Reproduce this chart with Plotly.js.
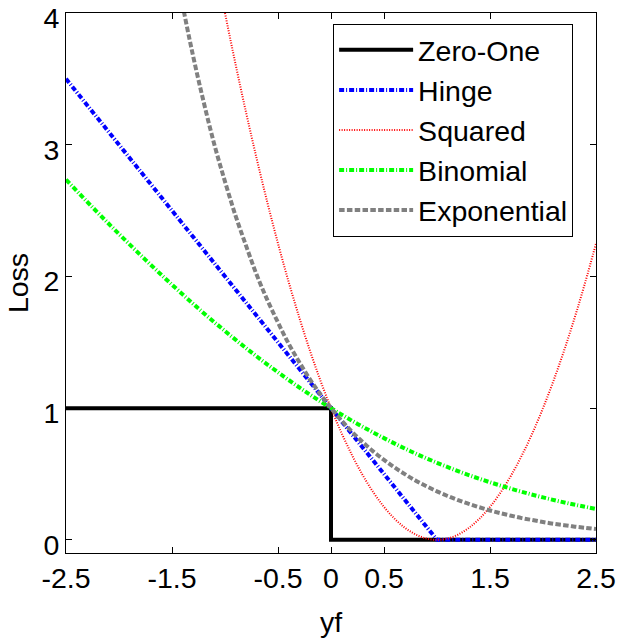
<!DOCTYPE html>
<html>
<head>
<meta charset="utf-8">
<script src="https://cdn.plot.ly/plotly-3.0.1.min.js"></script>
<style>html,body{margin:0;padding:0;background:#fff;}#chart{width:618px;height:644px;}</style>
</head>
<body>
<div id="chart"></div>
<script>
// Zero-One loss
const zeroOneX = [-2.5, 0, 0, 2.5];
const zeroOneY = [1, 1, 0, 0];
// Hinge loss
const hingeX = [-2.5, 1, 2.5];
const hingeY = [3.5, 0, 0];
// Squared loss
const squaredX = [-1.1,-1.0,-0.9,-0.8,-0.7,-0.6,-0.5,-0.4,-0.3,-0.2,-0.1,0,0.1,0.2,0.3,0.4,0.5,0.6,0.7,0.8,0.9,1.0,1.1,1.2,1.3,1.4,1.5,1.6,1.7,1.8,1.9,2.0,2.1,2.2,2.3,2.4,2.5];
const squaredY = [4.41,4.00,3.61,3.24,2.89,2.56,2.25,1.96,1.69,1.44,1.21,1.00,0.81,0.64,0.49,0.36,0.25,0.16,0.09,0.04,0.01,0,0.01,0.04,0.09,0.16,0.25,0.36,0.49,0.64,0.81,1.00,1.21,1.44,1.69,1.96,2.25];
// Binomial loss
const binomialX = [-2.5,-2.25,-2.0,-1.75,-1.5,-1.25,-1.0,-0.75,-0.5,-0.25,0,0.25,0.5,0.75,1.0,1.25,1.5,1.75,2.0,2.25,2.5];
const binomialY = [2.735,2.525,2.322,2.126,1.937,1.756,1.585,1.423,1.272,1.130,1.000,0.880,0.772,0.673,0.585,0.506,0.437,0.376,0.322,0.275,0.235];
// Exponential loss
const expX = [-1.5,-1.4,-1.3,-1.2,-1.1,-1.0,-0.9,-0.8,-0.7,-0.6,-0.5,-0.4,-0.3,-0.2,-0.1,0,0.1,0.2,0.3,0.4,0.5,0.6,0.7,0.8,0.9,1.0,1.1,1.2,1.3,1.4,1.5,1.6,1.7,1.8,1.9,2.0,2.1,2.2,2.3,2.4,2.5];
const expY = [4.48,4.06,3.67,3.32,3.00,2.72,2.46,2.23,2.01,1.82,1.65,1.49,1.35,1.22,1.105,1.00,0.905,0.819,0.741,0.670,0.607,0.549,0.497,0.449,0.407,0.368,0.333,0.301,0.273,0.247,0.223,0.202,0.183,0.165,0.150,0.135,0.122,0.111,0.100,0.091,0.082];

const xTicks = [-2.5,-1.5,-0.5,0,0.5,1.5,2.5];
const xTickText = ['-2.5','-1.5','-0.5','0','0.5','1.5','2.5'];
const yTicks = [0,1,2,3,4];
const yTickText = ['0','1','2','3','4'];

const FONT = 'Liberation Sans, Arial, sans-serif';
const FS = 28.5;

const traces = [
  {x: zeroOneX, y: zeroOneY, name: 'Zero-One', mode: 'lines', line: {color: '#000000', width: 4}},
  {x: hingeX, y: hingeY, name: 'Hinge', mode: 'lines', line: {color: '#0000ff', width: 4, dash: '5px,2px,1px,2px'}},
  {x: squaredX, y: squaredY, name: 'Squared', mode: 'lines', line: {color: '#ff0000', width: 2, dash: '1px,1.5px', shape: 'spline'}},
  {x: binomialX, y: binomialY, name: 'Binomial', mode: 'lines', line: {color: '#00ff00', width: 4, dash: '5px,2px,1px,2px', shape: 'spline'}},
  {x: expX, y: expY, name: 'Exponential', mode: 'lines', line: {color: '#808080', width: 4, dash: '5.5px,2.3px', shape: 'spline'}}
];

const layout = {
  width: 618, height: 644,
  margin: {l: 66, r: 22, t: 13, b: 91},
  paper_bgcolor: '#ffffff', plot_bgcolor: '#ffffff',
  font: {family: FONT, size: FS, color: '#000'},
  showlegend: true,
  legend: {
    x: 0.504, y: 0.98, xanchor: 'left', yanchor: 'top',
    bordercolor: '#000', borderwidth: 1, bgcolor: '#ffffff',
    font: {family: FONT, size: FS, color: '#000'},
    itemwidth: 74
  },
  xaxis: {
    range: [-2.5, 2.5], tickmode: 'array', tickvals: xTicks, ticktext: xTickText,
    ticks: 'inside', ticklen: 6, tickcolor: '#000', tickwidth: 1,
    showline: true, linecolor: '#000', linewidth: 1, mirror: 'ticks',
    showgrid: false, zeroline: false, ticklabeloverflow: 'allow',
    tickfont: {family: FONT, size: FS, color: '#000'},
    title: {text: 'yf', font: {family: FONT, size: FS, color: '#000'}, standoff: 18}
  },
  yaxis: {
    range: [-0.1, 4.0001], tickmode: 'array', tickvals: yTicks, ticktext: yTickText,
    ticks: 'inside', ticklen: 6, tickcolor: '#000', tickwidth: 1,
    showline: true, linecolor: '#000', linewidth: 1, mirror: 'ticks',
    showgrid: false, zeroline: false, ticklabeloverflow: 'allow', ticklabelshift: 5,
    tickfont: {family: FONT, size: FS, color: '#000'},
    title: {text: 'Loss', font: {family: FONT, size: FS, color: '#000'}, standoff: 6}
  }
};

Plotly.newPlot('chart', traces, layout, {displayModeBar: false, staticPlot: true});
</script>
</body>
</html>
